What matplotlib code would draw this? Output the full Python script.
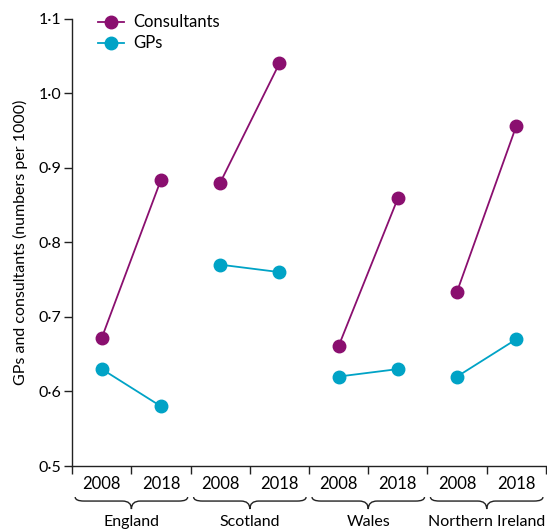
import matplotlib
matplotlib.use("Agg")
import matplotlib.pyplot as plt
from matplotlib.path import Path
from matplotlib.patches import PathPatch
from matplotlib import transforms

plt.rcParams['font.family'] = ['Lato', 'DejaVu Sans']

countries = ['England', 'Scotland', 'Wales', 'Northern Ireland']
years = ['2008', '2018']
consultants = [[0.672, 0.884], [0.880, 1.040], [0.661, 0.859], [0.734, 0.956]]
gps = [[0.630, 0.580], [0.770, 0.760], [0.620, 0.630], [0.620, 0.670]]
yticks = [0.5, 0.6, 0.7, 0.8, 0.9, 1.0, 1.1]

purple = '#8a0f6f'
cyan = '#00a3c6'

fig = plt.figure(figsize=(5.47, 5.29), dpi=100)
ax = fig.add_axes([0.132, 0.119, 0.866, 0.846])

for i, c in enumerate(countries):
    xs = [2 * i, 2 * i + 1]
    ax.plot(xs, consultants[i], color=purple, lw=1.3, marker='o', ms=9,
            label='Consultants' if i == 0 else None, zorder=3)
    ax.plot(xs, gps[i], color=cyan, lw=1.3, marker='o', ms=9,
            label='GPs' if i == 0 else None, zorder=3)

ax.set_xlim(-0.5, 7.5)
ax.set_ylim(0.5, 1.1)
ax.set_yticks(yticks)
ax.set_yticklabels([f'{v:.1f}'.replace('.', '\u00b7') for v in yticks], fontsize=11.5)
ax.set_xticks([k + 0.5 for k in range(-1, 8)])
ax.set_xticklabels([])
ax.tick_params(axis='both', direction='out', length=6, width=1, color='#222222')
ax.tick_params(axis='y', pad=2)
for s in ['top', 'right']:
    ax.spines[s].set_visible(False)
for s in ['left', 'bottom']:
    ax.spines[s].set_linewidth(1)
    ax.spines[s].set_color('#222222')

ax.set_ylabel('GPs and consultants (numbers per 1000)', fontsize=11.5, labelpad=7)

# year and country labels under the axis
ax_h = ax.get_position().height * fig.get_figheight() * fig.dpi
trans = transforms.blended_transform_factory(ax.transData, ax.transAxes)
def py(px):
    return -px / ax_h

for i, c in enumerate(countries):
    for j, yr in enumerate(years):
        ax.text(2 * i + j, py(18), yr, transform=trans, ha='center', va='center',
                fontsize=12, clip_on=False)
    ax.text(2 * i + 0.5, py(56), c, transform=trans, ha='center', va='center',
            fontsize=11.5, clip_on=False)
    # curly brace
    x0 = 2 * i - 0.45
    x1 = 2 * i + 1.45
    xm = 2 * i + 0.5
    r = 0.15
    verts = [(x0, py(31)), (x0, py(35)), (x0 + r, py(35)),
             (xm - r, py(35)), (xm, py(35)), (xm, py(43)),
             (xm, py(35)), (xm + r, py(35)),
             (x1 - r, py(35)), (x1, py(35)), (x1, py(31))]
    codes = [Path.MOVETO, Path.CURVE3, Path.CURVE3,
             Path.LINETO, Path.CURVE3, Path.CURVE3,
             Path.CURVE3, Path.CURVE3,
             Path.LINETO, Path.CURVE3, Path.CURVE3]
    ax.add_patch(PathPatch(Path(verts, codes), transform=trans, fill=False,
                           lw=1, edgecolor='#222222', clip_on=False))

ax.legend(loc='upper left', bbox_to_anchor=(0.04, 1.024), frameon=False,
          fontsize=12, handlelength=1.6, handletextpad=0.5, labelspacing=0.3,
          borderaxespad=0)

fig.savefig('out.png', dpi=100)
